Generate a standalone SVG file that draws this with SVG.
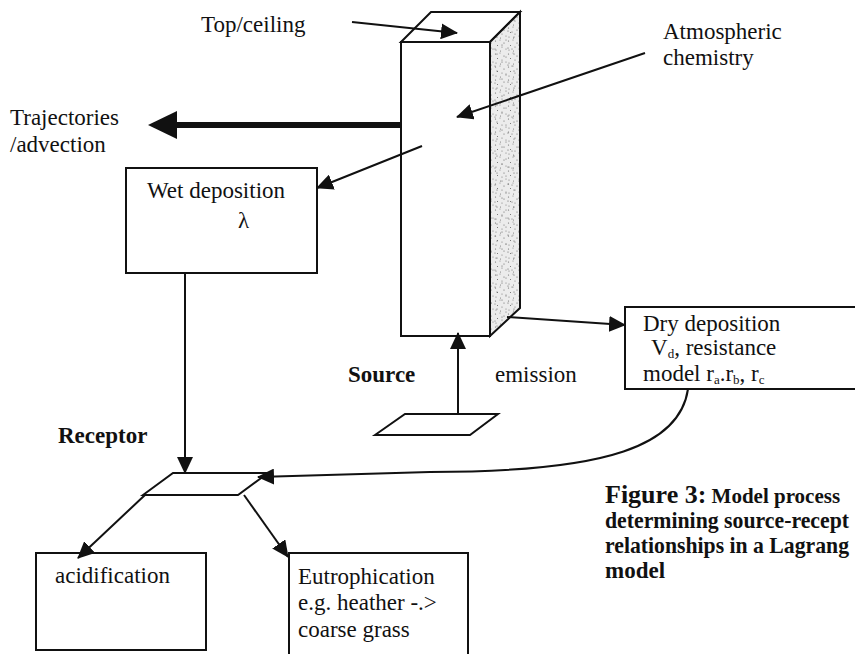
<svg xmlns="http://www.w3.org/2000/svg" width="855" height="654" viewBox="0 0 855 654">
  <style>
    .t { font-family: "Liberation Serif", "Times New Roman", serif; font-size: 23px; fill: #111; }
    .b { font-weight: bold; }
    .box { fill: #fff; stroke: #111; stroke-width: 2; }
    .edge { fill: none; stroke: #111; stroke-width: 2; }
    .flat { fill: #fff; stroke: #111; stroke-width: 2; stroke-linejoin: miter; }
  </style>
  <defs>
    <marker id="ah" viewBox="0 0 17 16" refX="16" refY="8" markerWidth="17" markerHeight="16" markerUnits="userSpaceOnUse" orient="auto">
      <path d="M0,0 L17,8 L0,16 z" fill="#111"/>
    </marker>
    <!-- speckled shading for the column side -->
    <pattern id="dotsA" width="13" height="13" patternUnits="userSpaceOnUse">
      <rect width="13" height="13" fill="#ececec"/>
      <circle cx="1.5" cy="2" r="0.6" fill="#666"/>
      <circle cx="6" cy="1" r="0.5" fill="#777"/>
      <circle cx="10" cy="4" r="0.6" fill="#666"/>
      <circle cx="3.5" cy="6.5" r="0.5" fill="#555"/>
      <circle cx="8" cy="8" r="0.6" fill="#777"/>
      <circle cx="12" cy="10" r="0.5" fill="#666"/>
      <circle cx="2" cy="11" r="0.6" fill="#777"/>
      <circle cx="6.5" cy="12" r="0.5" fill="#666"/>
    </pattern>
    <pattern id="dotsB" width="17" height="17" patternUnits="userSpaceOnUse">
      <circle cx="4" cy="3" r="0.55" fill="#555"/>
      <circle cx="13" cy="6" r="0.55" fill="#666"/>
      <circle cx="9" cy="11" r="0.55" fill="#555"/>
      <circle cx="2" cy="15" r="0.55" fill="#666"/>
      <circle cx="15" cy="14" r="0.55" fill="#555"/>
    </pattern>
  </defs>

  <rect width="855" height="654" fill="#fff"/>

  <!-- atmospheric column -->
  <g id="column">
    <polygon class="flat" points="401,42 431,12 520,12 490,42"/>
    <polygon points="490,42 520,12 520,308 490,336" fill="url(#dotsA)"/>
    <polygon points="490,42 520,12 520,308 490,336" fill="url(#dotsB)" stroke="#111" stroke-width="2"/>
    <rect class="box" x="401" y="42" width="89" height="294"/>
  </g>

  <g id="top-ceiling">
    <text class="t" x="201" y="32">Top/ceiling</text>
  </g>

  <g id="atmospheric-chemistry">
    <text class="t" x="663" y="39">Atmospheric</text>
    <text class="t" x="663" y="65">chemistry</text>
  </g>

  <g id="trajectories">
    <text class="t" x="10" y="125">Trajectories</text>
    <text class="t" x="10" y="152">/advection</text>
  </g>

  <g id="wet-deposition">
    <rect class="box" x="126" y="168" width="191" height="105"/>
    <text class="t" x="147" y="198">Wet deposition</text>
    <text class="t" x="238" y="228">λ</text>
  </g>

  <g id="dry-deposition">
    <rect class="box" x="625" y="307" width="250" height="82"/>
    <text class="t" x="643" y="331">Dry deposition</text>
    <text class="t" x="651" y="355">V<tspan font-size="13" dy="3">d</tspan><tspan dy="-3">, resistance</tspan></text>
    <text class="t" x="643" y="381">model r<tspan font-size="13" dy="3">a</tspan><tspan dy="-3">.r</tspan><tspan font-size="13" dy="3">b</tspan><tspan dy="-3">, r</tspan><tspan font-size="13" dy="3">c</tspan></text>
  </g>

  <g id="source">
    <polygon class="flat" points="375,435 405,414 498,414 470,435"/>
    <text class="t b" x="348" y="382">Source</text>
    <text class="t" x="495" y="382">emission</text>
  </g>

  <g id="receptor">
    <polygon class="flat" points="143,495 173,473 268,473 238,495"/>
    <text class="t b" x="58" y="443" font-size="22">Receptor</text>
  </g>

  <g id="acidification">
    <rect class="box" x="36" y="553" width="170" height="97"/>
    <text class="t" x="55" y="583">acidification</text>
  </g>

  <g id="eutrophication">
    <rect class="box" x="289" y="553" width="179" height="120"/>
    <text class="t" x="298" y="584">Eutrophication</text>
    <text class="t" x="298" y="610">e.g. heather -.&gt;</text>
    <text class="t" x="298" y="637">coarse grass</text>
  </g>

  <g id="caption">
    <text class="t b" x="605" y="503"><tspan font-size="26">Figure 3:</tspan><tspan font-size="21"> Model process</tspan></text>
    <text class="t b" x="605" y="528" font-size="19.5" textLength="244" lengthAdjust="spacingAndGlyphs">determining source-recept</text>
    <text class="t b" x="605" y="553" font-size="19.5" textLength="244" lengthAdjust="spacingAndGlyphs">relationships in a Lagrang</text>
    <text class="t b" x="605" y="578" font-size="21">model</text>
  </g>

  <g id="connectors">
    <line class="edge" x1="352" y1="22" x2="457" y2="33" marker-end="url(#ah)"/>
    <line class="edge" x1="645" y1="53" x2="457" y2="117" marker-end="url(#ah)"/>
    <!-- transport out of the column -->
    <line x1="401" y1="125" x2="175" y2="125" stroke="#111" stroke-width="6"/>
    <polygon points="148,125 177,111 177,139" fill="#111"/>
    <line class="edge" x1="422" y1="146" x2="317" y2="188" marker-end="url(#ah)"/>
    <line class="edge" x1="185" y1="273" x2="185" y2="473" marker-end="url(#ah)"/>
    <line class="edge" x1="507" y1="317" x2="625" y2="325" marker-end="url(#ah)"/>
    <line class="edge" x1="458" y1="414" x2="458" y2="333" marker-end="url(#ah)"/>
    <path class="edge" d="M688 389 C680 445 610 472 430 472 L258 477" marker-end="url(#ah)"/>
    <line class="edge" x1="145" y1="495" x2="78" y2="558" marker-end="url(#ah)"/>
    <line class="edge" x1="244" y1="495" x2="288" y2="557" marker-end="url(#ah)"/>
  </g>
</svg>
